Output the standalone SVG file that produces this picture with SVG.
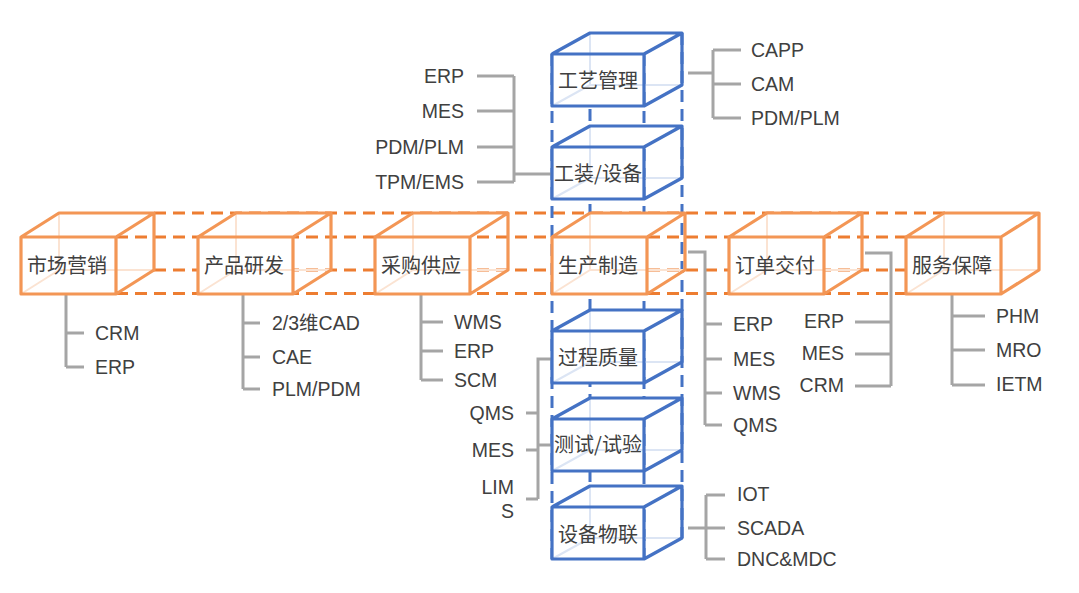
<svg xmlns="http://www.w3.org/2000/svg" width="1079" height="593" viewBox="0 0 1079 593">
<style>
.bg{fill:#ffffff}
.odash{stroke:#ED7D31;stroke-width:3;stroke-dasharray:12 7;fill:none}
.bdash{stroke:#4472C4;stroke-width:3;stroke-dasharray:12 7;fill:none}
.face{fill:#ffffff}
.oe{stroke:#F39655;stroke-width:3.2;fill:none;stroke-linejoin:round}
.be{stroke:#4472C4;stroke-width:3.2;fill:none;stroke-linejoin:round}
.oh{stroke:#FBE3D2;stroke-width:2;fill:none}
.bh{stroke:#DCE5F4;stroke-width:2;fill:none}
.lbl{font-family:"Noto Sans CJK SC","Liberation Sans",sans-serif;font-size:20px;fill:#404040;text-anchor:middle}
.sys{font-family:"Liberation Sans","Noto Sans CJK SC",sans-serif;font-size:19.5px;fill:#404040}
.r{text-anchor:end}
.con{stroke:#A5A5A5;stroke-width:3;fill:none}
</style>
<rect class="bg" x="0" y="0" width="1079" height="593"/>
<g id="guides">
<line class="odash" x1="154" y1="213" x2="945" y2="213"/>
<line class="odash" x1="116" y1="237" x2="906" y2="237"/>
<line class="odash" x1="154" y1="270" x2="945" y2="270"/>
<line class="odash" x1="116" y1="293.5" x2="906" y2="293.5"/>
<line class="bdash" x1="552" y1="54" x2="552" y2="559"/>
<line class="bdash" x1="644" y1="54" x2="644" y2="559"/>
<line class="bdash" x1="590" y1="33" x2="590" y2="538"/>
<line class="bdash" x1="682" y1="33" x2="682" y2="538"/>
</g>
<g id="connectors">
<path class="con" d="M66 294V367M66 333H84M66 367H84"/>
<path class="con" d="M243 294V389M243 323H260M243 357H260M243 389H260"/>
<path class="con" d="M421 294V380M421 322H443M421 351H443M421 380H443"/>
<path class="con" d="M688 252H705V425M705 324H722M705 359H722M705 393H722M705 425H722"/>
<path class="con" d="M865 253H891V386M855 322H891M855 354H891M855 386H891"/>
<path class="con" d="M952 294V385M952 316H985M952 350H985M952 385H985"/>
<path class="con" d="M688 73H713M713 50V118M713 50H741M713 84H741M713 118H741"/>
<path class="con" d="M553 174H514M514 76V182M477 76H514M477 111H514M477 147H514M477 182H514"/>
<path class="con" d="M553 359H538V499M538 445H553M526 413H538M526 450H538M526 499H538"/>
<path class="con" d="M688 528H706M706 495V559M706 495H725M706 528H725M706 559H725"/>
</g>
<g id="n-gongyi">
<polygon class="face" points="552,54 590,33 682,33 644,54"/>
<rect class="face" x="552" y="54" width="92" height="52"/>
<path class="bh" d="M590 33V85H682M552 106L590 85"/>
<path class="be" d="M552 54H644V106H552ZM552 54L590 33H682L644 54M682 33V85L644 106"/>
<text class="lbl" x="598" y="88">工艺管理</text>
</g>
<g id="n-gongzhuang">
<polygon class="face" points="552,147 590,126 682,126 644,147"/>
<rect class="face" x="552" y="147" width="92" height="52"/>
<path class="bh" d="M590 126V178H682M552 199L590 178"/>
<path class="be" d="M552 147H644V199H552ZM552 147L590 126H682L644 147M682 126V178L644 199"/>
<text class="lbl" x="598" y="181">工装/设备</text>
</g>
<g id="n-guocheng">
<polygon class="face" points="552,331 590,310 682,310 644,331"/>
<rect class="face" x="552" y="331" width="92" height="52"/>
<path class="bh" d="M590 310V362H682M552 383L590 362"/>
<path class="be" d="M552 331H644V383H552ZM552 331L590 310H682L644 331M682 310V362L644 383"/>
<text class="lbl" x="598" y="365">过程质量</text>
</g>
<g id="n-ceshi">
<polygon class="face" points="552,419 590,398 682,398 644,419"/>
<rect class="face" x="552" y="419" width="92" height="52"/>
<path class="bh" d="M590 398V450H682M552 471L590 450"/>
<path class="be" d="M552 419H644V471H552ZM552 419L590 398H682L644 419M682 398V450L644 471"/>
<text class="lbl" x="598" y="452">测试/试验</text>
</g>
<g id="n-shebei">
<polygon class="face" points="552,507 590,486 682,486 644,507"/>
<rect class="face" x="552" y="507" width="92" height="52"/>
<path class="bh" d="M590 486V538H682M552 559L590 538"/>
<path class="be" d="M552 507H644V559H552ZM552 507L590 486H682L644 507M682 486V538L644 559"/>
<text class="lbl" x="598" y="542">设备物联</text>
</g>
<g id="n-shichang">
<polygon class="face" points="21,237 59,213 154,213 116,237"/>
<rect class="face" x="21" y="237" width="95" height="57"/>
<path class="oh" d="M59 213V270H154M21 294L59 270"/>
<path class="oe" d="M21 237H116V294H21ZM21 237L59 213H154L116 237M154 213V270L116 294"/>
<text class="lbl" x="67" y="273">市场营销</text>
</g>
<g id="n-chanpin">
<polygon class="face" points="198,237 236,213 331,213 293,237"/>
<rect class="face" x="198" y="237" width="95" height="57"/>
<path class="oh" d="M236 213V270H331M198 294L236 270"/>
<path class="oe" d="M198 237H293V294H198ZM198 237L236 213H331L293 237M331 213V270L293 294"/>
<text class="lbl" x="244" y="273">产品研发</text>
</g>
<g id="n-caigou">
<polygon class="face" points="375,237 413,213 508,213 470,237"/>
<rect class="face" x="375" y="237" width="95" height="57"/>
<path class="oh" d="M413 213V270H508M375 294L413 270"/>
<path class="oe" d="M375 237H470V294H375ZM375 237L413 213H508L470 237M508 213V270L470 294"/>
<text class="lbl" x="421" y="273">采购供应</text>
</g>
<g id="n-shengchan">
<polygon class="face" points="552,237 590,213 685,213 647,237"/>
<rect class="face" x="552" y="237" width="95" height="57"/>
<path class="oh" d="M590 213V270H685M552 294L590 270"/>
<path class="oe" d="M552 237H647V294H552ZM552 237L590 213H685L647 237M685 213V270L647 294"/>
<text class="lbl" x="598" y="273">生产制造</text>
</g>
<g id="n-dingdan">
<polygon class="face" points="729,237 767,213 862,213 824,237"/>
<rect class="face" x="729" y="237" width="95" height="57"/>
<path class="oh" d="M767 213V270H862M729 294L767 270"/>
<path class="oe" d="M729 237H824V294H729ZM729 237L767 213H862L824 237M862 213V270L824 294"/>
<text class="lbl" x="775" y="273">订单交付</text>
</g>
<g id="n-fuwu">
<polygon class="face" points="906,237 944,213 1039,213 1001,237"/>
<rect class="face" x="906" y="237" width="95" height="57"/>
<path class="oh" d="M944 213V270H1039M906 294L944 270"/>
<path class="oe" d="M906 237H1001V294H906ZM906 237L944 213H1039L1001 237M1039 213V270L1001 294"/>
<text class="lbl" x="952" y="273">服务保障</text>
</g>
<g id="labels">
<text class="sys" x="751" y="57">CAPP</text>
<text class="sys" x="751" y="91">CAM</text>
<text class="sys" x="751" y="125">PDM/PLM</text>
<text class="sys r" x="464" y="83">ERP</text>
<text class="sys r" x="464" y="118">MES</text>
<text class="sys r" x="464" y="154">PDM/PLM</text>
<text class="sys r" x="464" y="189">TPM/EMS</text>
<text class="sys" x="95" y="340">CRM</text>
<text class="sys" x="95" y="374">ERP</text>
<text class="sys" x="272" y="330">2/3维CAD</text>
<text class="sys" x="272" y="364">CAE</text>
<text class="sys" x="272" y="396">PLM/PDM</text>
<text class="sys" x="454" y="329">WMS</text>
<text class="sys" x="454" y="358">ERP</text>
<text class="sys" x="454" y="387">SCM</text>
<text class="sys r" x="514" y="420">QMS</text>
<text class="sys r" x="514" y="457">MES</text>
<text class="sys r" x="514" y="494">LIM</text>
<text class="sys r" x="514" y="518">S</text>
<text class="sys" x="733" y="331">ERP</text>
<text class="sys" x="733" y="366">MES</text>
<text class="sys" x="733" y="400">WMS</text>
<text class="sys" x="733" y="432">QMS</text>
<text class="sys r" x="844" y="328">ERP</text>
<text class="sys r" x="844" y="360">MES</text>
<text class="sys r" x="844" y="392">CRM</text>
<text class="sys" x="996" y="323">PHM</text>
<text class="sys" x="996" y="357">MRO</text>
<text class="sys" x="996" y="391">IETM</text>
<text class="sys" x="737" y="501">IOT</text>
<text class="sys" x="737" y="535">SCADA</text>
<text class="sys" x="737" y="566">DNC&amp;MDC</text>
</g>
</svg>
